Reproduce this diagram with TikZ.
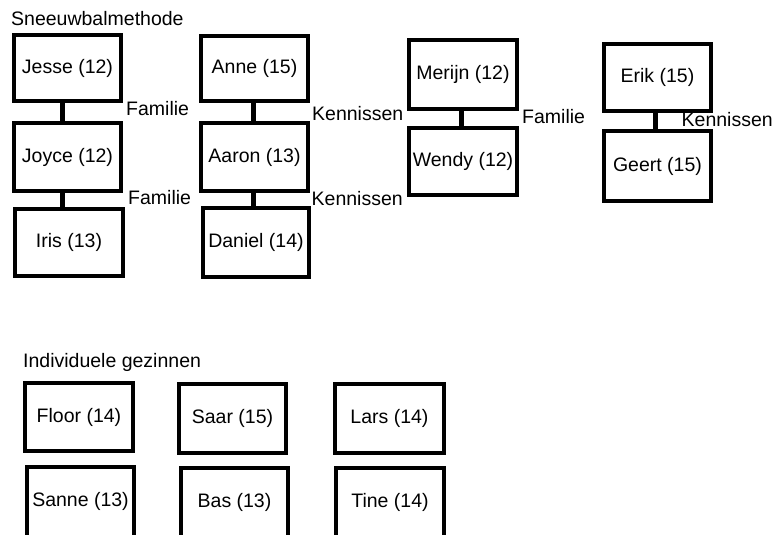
\documentclass[tikz,border=0pt]{standalone}
\usepackage{fontspec}
\setmainfont{Liberation Sans}
\begin{document}
\begin{tikzpicture}[x=1pt,y=-1pt,
  box/.style={draw=black,line width=4pt,fill=white,inner sep=0pt,font=\fontsize{19.5}{23}\selectfont},
  conn/.style={draw=black,line width=5pt},
  lab/.style={anchor=base west,inner sep=0pt,font=\fontsize{19.5}{23}\selectfont},
  txt/.style={inner sep=0pt,font=\fontsize{19.5}{23}\selectfont}]
\path[use as bounding box,clip] (0,0) rectangle (779,535);
\fill[white] (0,0) rectangle (779,535);
% titles
\node[lab] (t1) at (11,25.5) {Sneeuwbalmethode};
\node[lab] (t2) at (23,367) {Individuele gezinnen};
% column 1
\node[box,minimum width=107pt,minimum height=66pt] (jesse) at (67.5,68) {Jesse (12)};
\node[box,minimum width=107pt,minimum height=68pt] (joyce) at (67.5,157) {Joyce (12)};
\node[box,minimum width=108pt,minimum height=67pt] (iris) at (69,242.5) {Iris (13)};
\draw[conn] ([xshift=-5pt]jesse.south) -- ([xshift=-5pt]joyce.north);
\draw[conn] ([xshift=-5pt]joyce.south) -- ([xshift=-6.5pt]iris.north);
\node[lab] (f1) at (126,115) {Familie};
\node[lab] (f2) at (128,204) {Familie};
% column 2
\node[box,minimum width=107pt,minimum height=65pt] (anne) at (254.5,68.5) {Anne (15)};
\node[box,minimum width=107pt,minimum height=68pt] (aaron) at (254.5,157) {Aaron (13)};
\node[box,minimum width=106pt,minimum height=69pt] (daniel) at (256,242.5) {Daniel (14)};
\draw[conn] ([xshift=-1pt]anne.south) -- ([xshift=-1pt]aaron.north);
\draw[conn] ([xshift=-1pt]aaron.south) -- ([xshift=-2.5pt]daniel.north);
\node[lab] (k1) at (312,120) {Kennissen};
\node[lab] (k2) at (311.5,205) {Kennissen};
% column 3
\node[box,minimum width=108pt,minimum height=69pt] (merijn) at (463,74.5) {Merijn (12)};
\node[box,minimum width=108pt,minimum height=67pt] (wendy) at (463,161.5) {Wendy (12)};
\draw[conn] ([xshift=-1.5pt]merijn.south) -- ([xshift=-1.5pt]wendy.north);
\node[lab] (f3) at (522,123) {Familie};
% column 4
\node[box,minimum width=107pt,minimum height=67pt] (erik) at (657.5,77.5) {Erik (15)};
\node[box,minimum width=107pt,minimum height=70pt] (geert) at (657.5,166) {Geert (15)};
\draw[conn] ([xshift=-2pt]erik.south) -- ([xshift=-2pt]geert.north);
\node[lab] (k3) at (681.5,126.5) {Kennissen};
% individual families
\node[box,minimum width=108pt,minimum height=68pt] (floor) at (79,417) {Floor (14)};
\node[box,minimum width=107pt,minimum height=69pt] (saar) at (232.5,418.5) {Saar (15)};
\node[box,minimum width=109pt,minimum height=69pt] (lars) at (389.5,418.5) {Lars (14)};
\node[box,minimum width=107pt,minimum height=76pt] (sanne) at (80.5,505) {};
\node[box,minimum width=107pt,minimum height=76pt] (bas) at (234.5,506) {};
\node[box,minimum width=108pt,minimum height=76pt] (tine) at (390,506) {};
\node[txt] (sannet) at (80.5,501) {Sanne (13)};
\node[txt] (bast) at (234.5,502) {Bas (13)};
\node[txt] (tinet) at (390,502) {Tine (14)};
\end{tikzpicture}
\end{document}
